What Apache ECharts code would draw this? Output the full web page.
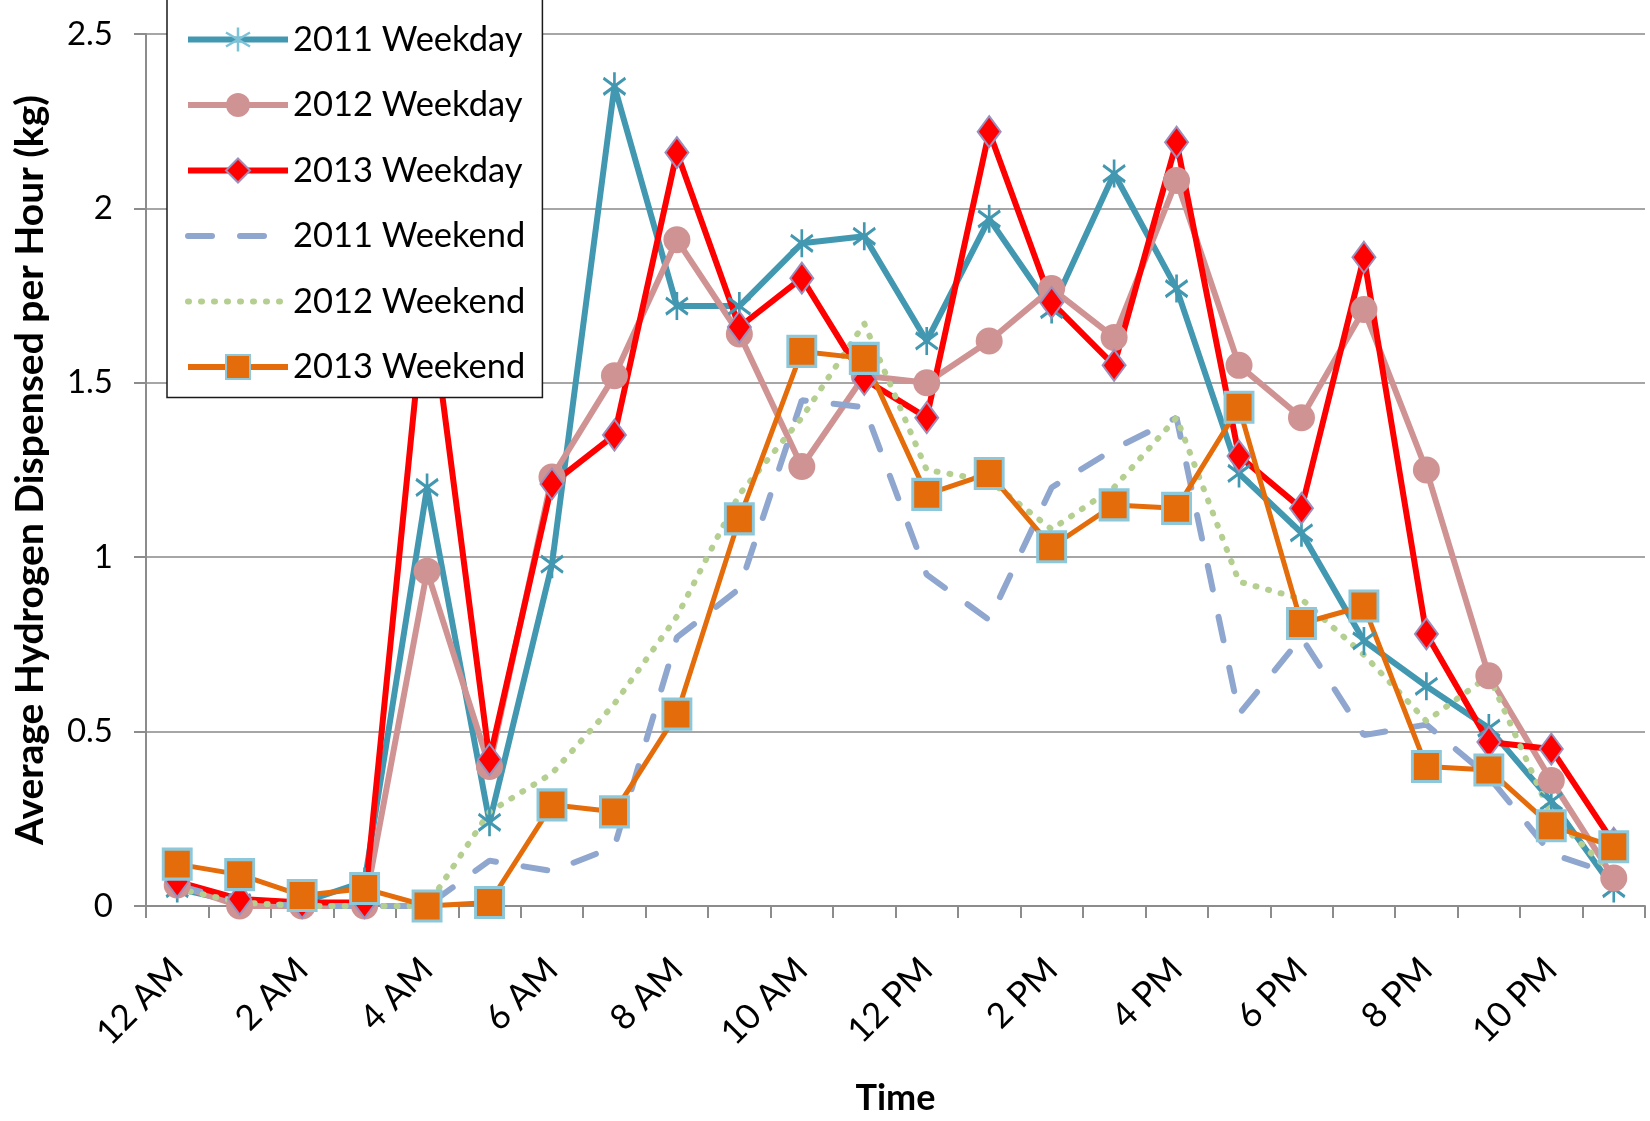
<!DOCTYPE html>
<html>
<head>
<meta charset="utf-8">
<script src="https://cdn.jsdelivr.net/npm/echarts@6/dist/echarts.min.js"></script>
<style>
html,body{margin:0;padding:0;background:#fff;}
#chart{width:1650px;height:1121px;}
</style>
</head>
<body>
<div id="chart"></div>
<script>
const hours = ['12 AM','1 AM','2 AM','3 AM','4 AM','5 AM','6 AM','7 AM','8 AM','9 AM','10 AM','11 AM',
               '12 PM','1 PM','2 PM','3 PM','4 PM','5 PM','6 PM','7 PM','8 PM','9 PM','10 PM','11 PM'];
const weekday2011 = [0.05,0.01,0.01,0.07,1.20,0.24,0.98,2.35,1.72,1.72,1.90,1.92,1.62,1.97,1.71,2.10,1.77,1.24,1.07,0.76,0.63,0.51,0.30,0.05];
const weekday2012 = [0.06,0.00,0.00,0.00,0.96,0.40,1.23,1.52,1.91,1.64,1.26,1.52,1.50,1.62,1.77,1.63,2.08,1.55,1.40,1.71,1.25,0.66,0.36,0.08];
const weekday2013 = [0.07,0.02,0.01,0.01,1.80,0.42,1.21,1.35,2.16,1.66,1.80,1.51,1.40,2.22,1.73,1.55,2.19,1.29,1.14,1.86,0.78,0.47,0.45,0.18];
const weekend2011 = [0.06,0.01,0.00,0.00,0.00,0.13,0.10,0.17,0.77,0.91,1.45,1.43,0.95,0.82,1.20,1.31,1.40,0.55,0.77,0.49,0.52,0.37,0.15,0.09];
const weekend2012 = [0.05,0.01,0.00,0.00,0.00,0.27,0.38,0.58,0.83,1.18,1.40,1.67,1.25,1.22,1.08,1.20,1.40,0.93,0.88,0.72,0.53,0.66,0.26,0.09];
const weekend2013 = [0.12,0.09,0.03,0.05,0.00,0.01,0.29,0.27,0.55,1.11,1.59,1.57,1.18,1.24,1.03,1.15,1.14,1.43,0.81,0.86,0.40,0.39,0.23,0.17];
const seriesNames = ['2011 Weekday','2012 Weekday','2013 Weekday','2011 Weekend','2012 Weekend','2013 Weekend'];
const yTicks = {min:0, max:2.5, interval:0.5};

const FONT = 'Lato';
const asterisk = 'path://M10,0 L10,24 M0,5 L20,19 M0,19 L20,5';
const noSymbol = {color:'rgba(0,0,0,0)', borderWidth:0, borderColor:'rgba(0,0,0,0)'};

const chart = echarts.init(document.getElementById('chart'), null, {renderer:'canvas'});
const option = {
  animation:false,
  backgroundColor:'#fff',
  grid:{left:146, right:5, top:34, bottom:203, containLabel:false},
  legend:{
    orient:'vertical', left:167, top:-4,
    padding:[26,17,13,18],
    itemWidth:100, itemHeight:30, itemGap:30.5,
    backgroundColor:'#fff', borderColor:'#1a1a1a', borderWidth:1.5,
    lineStyle:{width:6},
    textStyle:{fontFamily:FONT, fontSize:34.5, color:'#000', width:232},
    data:[
      {name:seriesNames[0], lineStyle:{width:6}, itemStyle:{color:'#7DC3D8', borderColor:'#7DC3D8', borderWidth:2.5}},
      {name:seriesNames[1], lineStyle:{width:6}},
      {name:seriesNames[2], lineStyle:{width:6}},
      {name:seriesNames[3], lineStyle:{width:6}, itemStyle:noSymbol},
      {name:seriesNames[4], lineStyle:{width:6}, itemStyle:noSymbol},
      {name:seriesNames[5], lineStyle:{width:6}}
    ]
  },
  xAxis:{
    type:'category', data:hours, boundaryGap:true,
    name:'Time', nameLocation:'middle', nameGap:174,
    nameTextStyle:{fontFamily:FONT, fontSize:36, fontWeight:'bold', color:'#000'},
    axisLine:{lineStyle:{color:'#8c8c8c', width:2}},
    axisTick:{show:true, interval:0, length:12, lineStyle:{color:'#8c8c8c', width:2}},
    axisLabel:{interval:1, rotate:45, margin:58, fontFamily:FONT, fontSize:35, color:'#000', padding:[70,0,0,0]},
    splitLine:{show:false}
  },
  yAxis:{
    type:'value', min:yTicks.min, max:yTicks.max, interval:yTicks.interval,
    name:'Average Hydrogen Dispensed per Hour (kg)', nameLocation:'middle', nameGap:96, nameRotate:90,
    nameTextStyle:{fontFamily:FONT, fontSize:39, fontWeight:'bold', color:'#000'},
    axisLine:{show:true, lineStyle:{color:'#8c8c8c', width:2}},
    axisTick:{show:true, length:12, lineStyle:{color:'#8c8c8c', width:2}},
    axisLabel:{margin:33, fontFamily:FONT, fontSize:33, color:'#000'},
    splitLine:{show:true, lineStyle:{color:'#a6a6a6', width:2}}
  },
  series:[
    {name:seriesNames[0], type:'line', data:weekday2011, showAllSymbol:true,
     symbol:asterisk, symbolSize:[22,28],
     lineStyle:{color:'#4298B0', width:6}, itemStyle:{color:'#4298B0', borderColor:'#4298B0', borderWidth:3}},
    {name:seriesNames[1], type:'line', data:weekday2012, showAllSymbol:true,
     symbol:'circle', symbolSize:27,
     lineStyle:{color:'#D09393', width:6}, itemStyle:{color:'#D09393'}},
    {name:seriesNames[2], type:'line', data:weekday2013, showAllSymbol:true,
     symbol:'diamond', symbolSize:[23,31],
     lineStyle:{color:'#FF0000', width:6}, itemStyle:{color:'#FF0000', borderColor:'#9B8FBE', borderWidth:2}},
    {name:seriesNames[3], type:'line', data:weekend2011, symbol:'none',
     lineStyle:{color:'#8FA6CF', width:6, type:[24,28], cap:'round'}, itemStyle:{color:'#8FA6CF'}},
    {name:seriesNames[4], type:'line', data:weekend2012, symbol:'none',
     lineStyle:{color:'#B5CF91', width:6, type:[1,12], cap:'round'}, itemStyle:{color:'#B5CF91'}},
    {name:seriesNames[5], type:'line', data:weekend2013, showAllSymbol:true,
     symbol:'rect', symbolSize:[28,30],
     lineStyle:{color:'#E46C0A', width:5}, itemStyle:{color:'#E46C0A', borderColor:'#8CC7DA', borderWidth:3}}
  ]
};
chart.setOption(option);
</script>
</body>
</html>
